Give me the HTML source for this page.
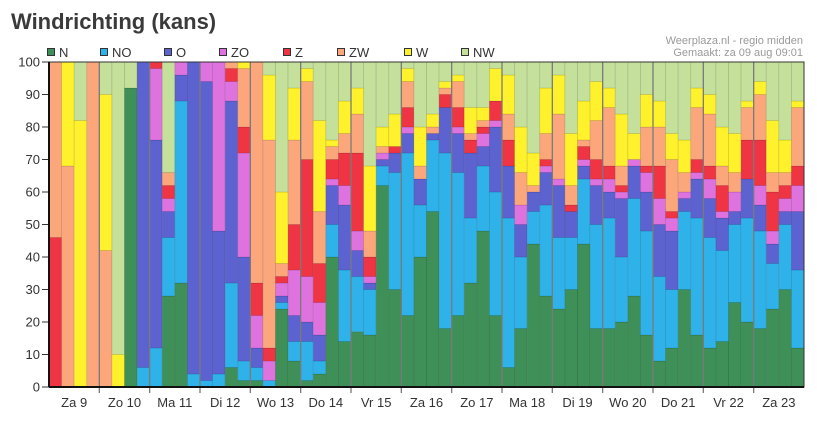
<!DOCTYPE html>
<html><head><meta charset="utf-8"><style>
body{margin:0;background:#fff;width:817px;height:433px;overflow:hidden;font-family:"Liberation Sans",sans-serif}
svg{display:block}
</style></head><body>
<svg id="chart" width="817" height="433" xmlns="http://www.w3.org/2000/svg">
<text x="11" y="29" font-size="22" font-weight="bold" fill="#3a3a3a" font-family="Liberation Sans, sans-serif">Windrichting (kans)</text>
<text x="803" y="44" font-size="11" fill="#999" text-anchor="end">Weerplaza.nl - regio midden</text>
<text x="803" y="56" font-size="11" fill="#999" text-anchor="end">Gemaakt: za 09 aug 09:01</text>
<g id="legend"></g>
<g id="bars"></g>
<g id="axes"></g>
</svg>
<script>
const seriesNames = ["N","NO","O","ZO","Z","ZW","W","NW"];
const seriesColors = ["#3f9058","#2fb2ea","#5c62d0","#de72de","#ef3443","#fba77b","#fff12c","#c4e09a"];
const dayLabels = ["Za 9","Zo 10","Ma 11","Di 12","Wo 13","Do 14","Vr 15","Za 16","Zo 17","Ma 18","Di 19","Wo 20","Do 21","Vr 22","Za 23"];
const yTicks = [0,10,20,30,40,50,60,70,80,90,100];
const valN  = [0,0,0,0,0,0,92,0,0,28, 32,0,0,0,6,2,2,0,24,8, 2,4,40,14,17,16,62,30,22,40, 54,18,22,32,48,22,6,18,44,28, 24,30,44,18,18,20,28,16,8,12, 30,16,12,14,26,20,18,24,30,12];
const valNO = [0,0,0,0,0,0,0,6,12,18, 56,4,2,4,26,6,4,2,2,6, 12,4,10,22,17,14,6,36,50,16, 22,54,44,20,20,38,46,22,10,28, 22,16,20,32,34,20,30,32,26,18, 24,36,34,28,24,32,30,14,20,24];
const valO  = [0,0,0,0,0,0,0,94,64,8, 8,96,92,44,56,32,6,0,2,8, 6,8,12,20,8,2,2,6,6,8, 2,14,12,20,6,20,16,10,6,10, 16,8,4,12,8,18,10,12,16,18, 4,12,12,10,4,12,8,6,4,18];
const valZO = [0,0,0,0,0,0,0,0,22,4, 4,0,6,52,6,32,10,6,4,14, 14,10,2,6,6,2,2,0,2,0, 0,0,2,0,4,2,0,6,0,2, 2,0,2,2,4,2,2,6,8,4, 2,2,6,2,6,0,6,4,4,8];
const valZ  = [46,0,0,0,0,0,0,0,2,4, 0,0,0,0,4,8,10,4,2,14, 36,12,6,10,24,6,0,2,6,0, 0,4,6,4,2,6,8,0,0,2, 0,2,4,6,4,2,0,2,10,2, 0,4,4,8,0,12,14,12,4,6];
const valZW = [54,68,0,100,42,0,0,0,0,4, 0,0,0,0,2,18,68,64,4,26, 24,16,4,6,12,8,2,0,8,4, 2,2,8,2,2,0,8,10,2,8, 20,6,2,12,18,6,0,12,12,16, 6,16,16,6,6,10,14,6,4,18];
const valW  = [0,32,82,0,48,10,0,0,0,0, 0,0,0,0,0,2,0,20,22,16, 4,28,2,10,8,20,6,10,4,12, 4,2,2,8,4,10,12,14,10,14, 12,16,12,12,6,16,8,10,8,8, 10,6,6,12,12,2,4,16,10,2];
const valNW = [0,0,18,0,10,90,8,0,0,34, 0,0,0,0,0,0,0,4,40,8, 2,18,24,12,8,32,20,16,2,20, 16,6,4,14,14,2,4,20,28,8, 4,22,12,6,8,16,22,10,12,22, 24,8,10,20,22,12,6,18,24,12];
const series = [valN,valNO,valO,valZO,valZ,valZW,valW,valNW];

const NS="http://www.w3.org/2000/svg";
const X0=49, X1=804, Y0=387, Y1=62;
const nBars = valN.length;
const perDay = nBars/dayLabels.length;
const bw = (X1-X0)/nBars;
const xPos = i => X0 + i*bw;
const yPos = v => Y0 - (v/100)*(Y0-Y1);
function mk(tag, attrs, parent){const e=document.createElementNS(NS,tag);for(const k in attrs)e.setAttribute(k,attrs[k]);parent.appendChild(e);return e;}

const bars=document.getElementById('bars');
for(let i=0;i<nBars;i++){
  let cum=0;
  for(let s=0;s<series.length;s++){
    const v=series[s][i];
    if(v<=0)continue;
    const r=mk('rect',{x:xPos(i),y:yPos(cum+v),width:bw,height:yPos(cum)-yPos(cum+v),fill:seriesColors[s],stroke:'rgba(0,0,0,0.12)','stroke-width':0.8},bars);
    
    
    cum+=v;
  }
}
const axes=document.getElementById('axes');
for(let d=1;d<dayLabels.length;d++){
  const x=xPos(d*perDay);
  const l=mk('line',{x1:x,x2:x,y1:Y1,y2:Y0+6,stroke:'#7a7a7a','stroke-width':1.3},axes);
  
  
}
for(let d=0;d<dayLabels.length;d++){
  const t=mk('text',{x:xPos(d*perDay+perDay/2),y:407,'font-size':13,fill:'#333','text-anchor':'middle'},axes);
  t.textContent=dayLabels[d];
  
  
}
for(const v of yTicks){
  const y=yPos(v);
  const tk=mk('line',{x1:X0-7,x2:X0,y1:y,y2:y,stroke:'#333','stroke-width':1},axes);
  
  
  const t=mk('text',{x:X0-9,y:y+4.5,'font-size':13,fill:'#333','text-anchor':'end'},axes);
  t.textContent=v;
  
  
}
const frame=mk('rect',{x:X0,y:Y1,width:X1-X0,height:Y0-Y1,fill:'none',stroke:'#333','stroke-width':1},axes);


const xa=mk('line',{x1:X0,x2:X1,y1:Y0,y2:Y0,stroke:'#111','stroke-width':2},axes);


const ya=mk('line',{x1:X0,x2:X0,y1:Y1,y2:Y0,stroke:'#111','stroke-width':2},axes);



const legX=[47,100,164,219,283,337,404,461];
const leg=document.getElementById('legend');
for(let s=0;s<seriesNames.length;s++){
  const g=mk('g',{},leg);
  
  
  mk('rect',{x:legX[s]+0.5,y:48.5,width:7,height:7,fill:seriesColors[s],stroke:'#333','stroke-width':1},g);
  const t=mk('text',{x:legX[s]+12,y:57,'font-size':13,fill:'#333'},g);
  t.textContent=seriesNames[s];
}
</script>
</body></html>
